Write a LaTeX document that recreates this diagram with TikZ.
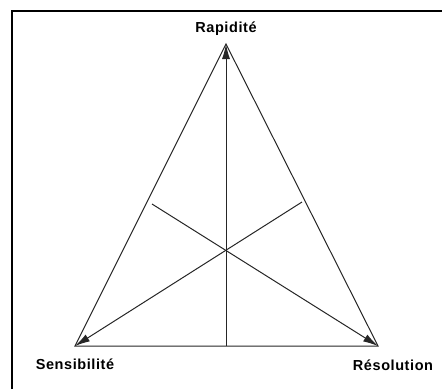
\documentclass[tikz,border=0pt]{standalone}
\usepackage{fontspec}
\setmainfont{Liberation Sans}[LetterSpace=4]
\usetikzlibrary{arrows.meta}
\begin{document}
\begin{tikzpicture}[x=1pt,y=-1pt,
  edge/.style={draw=black!85, line width=1pt},
  arr/.style={edge, -{Latex[length=15pt,width=8pt]}},
  lbl/.style={font=\bfseries\fontsize{14.5}{16}\selectfont, inner sep=0pt}]
\useasboundingbox (0,0) rectangle (442,389);
\draw[line width=2.2pt] (12,389) -- (12,11) -- (442,11);
\coordinate (A) at (226,44);
\coordinate (B) at (75,346);
\coordinate (C) at (378,346);
\coordinate (M) at (226,346);
\coordinate (P) at (302,202);
\coordinate (Q) at (152,204);
\draw[edge] (A) -- (B) -- (C) -- cycle;
\draw[arr] (M) -- (A);
\draw[arr] (P) -- (B);
\draw[arr] (Q) -- (C);
\node[lbl] (r) at (226,29) {Rapidité};
\node[lbl] (s) at (75,364) {Sensibilité};
\node[lbl] (t) at (393,365) {Résolution};
\end{tikzpicture}
\end{document}
